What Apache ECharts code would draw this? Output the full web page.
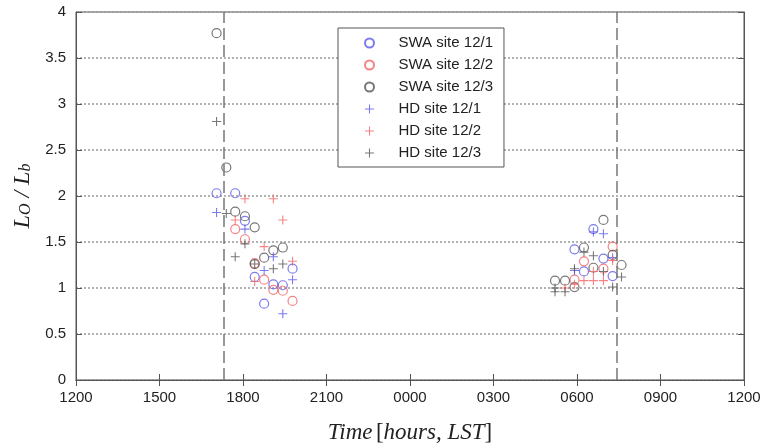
<!DOCTYPE html>
<html>
<head>
<meta charset="utf-8">
<script src="https://cdn.jsdelivr.net/npm/echarts@6/dist/echarts.min.js"></script>
<style>html,body{margin:0;padding:0;background:#fff}#c{width:763px;height:445px}</style>
</head>
<body>
<div id="c"></div>
<script>
// x in hours from noon (12) to next noon (36)
const xTickValues = [12, 15, 18, 21, 24, 27, 30, 33, 36];
const xTickLabels = ['1200', '1500', '1800', '2100', '0000', '0300', '0600', '0900', '1200'];
const yTickLabels = ['0', '0.5', '1', '1.5', '2', '2.5', '3', '3.5', '4'];
const seriesNames = ['SWA site 12/1', 'SWA site 12/2', 'SWA site 12/3', 'HD site 12/1', 'HD site 12/2', 'HD site 12/3'];
const dashedTimes = [17.3, 31.42];

const swa121 = [[17.05,2.03],[17.72,2.03],[18.07,1.73],[18.42,1.12],[18.76,0.83],[19.09,1.04],[19.43,1.03],[19.78,1.21],
  [29.91,1.42],[30.25,1.18],[30.59,1.64],[30.95,1.32],[31.28,1.13]];
const swa122 = [[17.72,1.64],[18.07,1.53],[18.42,1.27],[18.76,1.09],[19.09,0.98],[19.43,0.97],[19.78,0.86],
  [29.91,1.09],[30.25,1.29],[30.95,1.21],[31.28,1.45]];
const swa123 = [[17.05,3.77],[17.4,2.31],[17.72,1.83],[18.07,1.78],[18.42,1.66],[18.42,1.26],[18.76,1.33],[19.09,1.41],[19.43,1.44],
  [29.21,1.08],[29.57,1.08],[29.91,1.01],[30.25,1.44],[30.59,1.22],[30.95,1.74],[31.28,1.36],[31.6,1.25]];
const hd121 = [[17.05,1.82],[18.07,1.64],[18.76,1.19],[19.09,1.34],[19.43,0.72],[19.78,1.09],
  [29.91,1.19],[30.59,1.61],[30.95,1.59],[31.28,1.33]];
const hd122 = [[17.72,1.74],[18.07,1.97],[18.42,1.07],[18.76,1.45],[19.09,1.97],[19.43,1.74],[19.78,1.29],
  [29.57,1.0],[29.91,1.04],[30.25,1.08],[30.59,1.08],[30.59,1.18],[30.95,1.08],[31.28,1.30]];
const hd123 = [[17.05,2.81],[17.4,1.81],[17.72,1.34],[18.07,1.48],[18.42,1.26],[19.09,1.21],[19.43,1.26],
  [29.21,0.96],[29.21,1.0],[29.57,0.96],[29.91,1.21],[30.25,1.39],[30.59,1.35],[30.95,1.18],[31.28,1.01],[31.6,1.12]];

const BLUE = '#5a5ae8', RED = '#f26464', GRAY = '#555555';
const PLUS = 'path://M4.4,0H5.6V4.4H10V5.6H5.6V10H4.4V5.6H0V4.4H4.4Z';
const labelFont = { fontFamily: 'Liberation Sans', fontSize: 15, color: '#222' };

function circleSeries(name, data, color) {
  return { name, type: 'scatter', data, symbol: 'circle', symbolSize: 9,
    itemStyle: { color: 'rgba(255,255,255,0)', borderColor: color, borderWidth: 1.2 } };
}
function plusSeries(name, data, color) {
  return { name, type: 'scatter', data, symbol: PLUS, symbolSize: 9,
    itemStyle: { color: color } };
}

const series = [
  circleSeries(seriesNames[0], swa121, BLUE),
  circleSeries(seriesNames[1], swa122, RED),
  circleSeries(seriesNames[2], swa123, GRAY),
  plusSeries(seriesNames[3], hd121, BLUE),
  plusSeries(seriesNames[4], hd122, RED),
  plusSeries(seriesNames[5], hd123, GRAY)
];
series[0].markLine = {
  silent: true, symbol: 'none', label: { show: false },
  lineStyle: { type: [12, 5], color: '#777', width: 1.5 },
  data: dashedTimes.map(t => ({ xAxis: t }))
};

const chart = echarts.init(document.getElementById('c'), null, { renderer: 'canvas' });
chart.setOption({
  animation: false,
  grid: { left: 76, right: 19, top: 12, bottom: 65, show: true, borderColor: '#555', borderWidth: 1,
    containLabel: false, outerBoundsMode: 'none' },
  legend: {
    data: seriesNames, orient: 'vertical', left: 338, top: 28,
    padding: [4, 11, 3, 26], itemWidth: 48, itemHeight: 9, itemGap: 0,
    borderColor: '#555', borderWidth: 1, backgroundColor: '#fff',
    textStyle: { fontFamily: 'Liberation Sans', fontSize: 15, color: '#222', lineHeight: 22 }
  },
  xAxis: [{
    type: 'value', min: 12, max: 36, interval: 3, position: 'bottom',
    name: '{i|Time} {n|[}{i|hours, LST}{n|]}', nameLocation: 'middle', nameGap: 41,
    nameTextStyle: { rich: {
      i: { fontFamily: 'Liberation Serif', fontStyle: 'italic', fontSize: 23, color: '#222' },
      n: { fontFamily: 'Liberation Serif', fontSize: 23, color: '#222' } } },
    axisLine: { lineStyle: { color: '#555' } },
    axisTick: { inside: true, length: 6, lineStyle: { color: '#555' } },
    axisLabel: Object.assign({ margin: 10, formatter: v => xTickLabels[xTickValues.indexOf(v)] }, labelFont),
    splitLine: { show: false }
  }, {
    type: 'value', min: 12, max: 36, interval: 3, position: 'top',
    axisLine: { lineStyle: { color: '#555' } },
    axisTick: { inside: true, length: 6, lineStyle: { color: '#555' } },
    axisLabel: { show: false }, splitLine: { show: false }
  }],
  yAxis: [{
    type: 'value', min: 0, max: 4, interval: 0.5,
    name: '{i|L}{s|O}{n| / }{i|L}{s|b}', nameLocation: 'middle', nameGap: 36, nameRotate: 90,
    nameTextStyle: { rich: {
      i: { fontFamily: 'Liberation Serif', fontStyle: 'italic', fontSize: 24, color: '#222' },
      s: { fontFamily: 'Liberation Serif', fontStyle: 'italic', fontSize: 16, color: '#222', verticalAlign: 'bottom', padding: [8, 0, 0, 0] },
      n: { fontFamily: 'Liberation Serif', fontStyle: 'italic', fontSize: 24, color: '#222' } } },
    axisLine: { show: true, lineStyle: { color: '#555' } },
    axisTick: { show: true, inside: true, length: 6, lineStyle: { color: '#555' } },
    axisLabel: Object.assign({ margin: 10, formatter: v => yTickLabels[Math.round(v * 2)] }, labelFont),
    splitLine: { show: true, lineStyle: { type: [2, 2], color: '#999', width: 1.5 } }
  }, {
    type: 'value', min: 0, max: 4, interval: 0.5, position: 'right',
    axisLine: { show: true, lineStyle: { color: '#555' } },
    axisTick: { show: true, inside: true, length: 6, lineStyle: { color: '#555' } },
    axisLabel: { show: false }, splitLine: { show: false }
  }],
  series
});
</script>
</body>
</html>
